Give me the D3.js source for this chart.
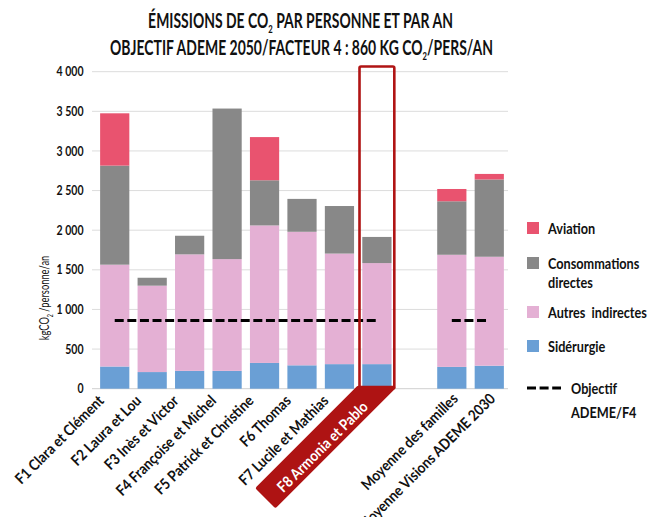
<!DOCTYPE html>
<html>
<head>
<meta charset="utf-8">
<script src="https://cdn.jsdelivr.net/npm/d3@7"></script>
<style>
  html, body { margin: 0; padding: 0; background: #fff; }
  svg text { font-family: Lato, "Open Sans", "DejaVu Sans", sans-serif; fill: #111; font-weight: bold; }
</style>
</head>
<body>
<svg id="chart" width="659" height="517"></svg>
<script>
// Categories (one empty slot separates families from averages)
const categories = [
  "F1 Clara et Clément", "F2 Laura et Lou", "F3 Inès et Victor", "F4 Françoise et Michel",
  "F5 Patrick et Christine", "F6 Thomas", "F7 Lucile et Mathias", "F8 Armonia et Pablo",
  "", "Moyenne des familles", "Moyenne Visions ADEME 2030"
];
// kg CO2 per person per year, by stack layer
const siderurgie     = [280, 210, 225, 225, 325, 295, 310, 310, null, 275, 290];
const autresIndir    = [1285, 1090, 1470, 1410, 1735, 1685, 1395, 1275, null, 1415, 1375];
const consoDirectes  = [1250, 100, 235, 1900, 570, 415, 600, 330, null, 675, 975];
const aviation       = [660, 0, 0, 0, 545, 0, 0, 0, null, 155, 70];
const objectif       = [860, 860, 860, 860, 860, 860, 860, 860, null, 860, 860];
const yTicks = [0, 500, 1000, 1500, 2000, 2500, 3000, 3500, 4000];
const highlighted = "F8 Armonia et Pablo";

const seriesNames = ["Sidérurgie", "Autres indirectes", "Consommations directes", "Aviation"];
const seriesValues = [siderurgie, autresIndir, consoDirectes, aviation];
const colors = ["#6a9fd5", "#e4b0d4", "#888888", "#e9536f"];

const svg = d3.select("#chart");
const x = d3.scaleBand().domain(categories).range([96, 508]).paddingInner(0.22).paddingOuter(0.11);
const y = d3.scaleLinear().domain([0, 4000]).range([388.7, 71.7]);
const fmt = d3.formatLocale({ decimal: ",", thousands: " ", grouping: [3], currency: ["", "€"] }).format(",d");
const bw = x.bandwidth(), y0 = y(0);

// Horizontal squeeze factor so that a sample string occupies a given width
function squeeze(text, size, width) {
  const t = svg.append("text").attr("font-size", size).text(text);
  const w = t.node().getComputedTextLength();
  t.remove();
  return width / w;
}

// Title (each line squeezed to its width)
function titleLine(parts, cx, by, width) {
  const g = svg.append("g");
  const t = g.append("text").attr("font-size", 20).attr("text-anchor", "middle");
  parts.forEach(p => {
    if (p.sub) t.append("tspan").attr("font-size", 11).attr("dy", 5).text(p.sub);
    else t.append("tspan").attr("dy", p.back ? -5 : 0).text(p.txt);
  });
  const w = t.node().getBBox().width;
  g.attr("transform", `translate(${cx},${by}) scale(${width / w},1)`);
}
titleLine([{ txt: "ÉMISSIONS DE CO" }, { sub: "2" }, { txt: " PAR PERSONNE ET PAR AN", back: true }], 300.5, 28, 305);
titleLine([{ txt: "OBJECTIF ADEME 2050/FACTEUR 4 : 860 KG CO" }, { sub: "2" }, { txt: "/PERS/AN", back: true }], 301.5, 55, 383);

// Gridlines
svg.append("g").selectAll("line").data(yTicks).join("line")
  .attr("x1", 92).attr("x2", 508)
  .attr("y1", d => y(d)).attr("y2", d => y(d))
  .attr("stroke", d => d === 0 ? "#cfcfcf" : "#dcdcdc").attr("stroke-width", 1);

// Y axis labels
const sTick = squeeze("4 000", 13.5, 27);
svg.append("g").selectAll("text").data(yTicks).join("text")
  .attr("transform", d => `translate(83.5,${y(d) + 4.6}) scale(${sTick},1)`)
  .attr("text-anchor", "end").attr("font-size", 13.5).text(d => fmt(d));

// Y title
const sYt = squeeze("kgCO2 /personne/an", 14, 88);
const yt = svg.append("text").attr("transform", `translate(49,298) rotate(-90) scale(${sYt},1)`)
  .attr("text-anchor", "middle").attr("font-size", 14).style("font-weight", "normal");
yt.append("tspan").text("kgCO");
yt.append("tspan").attr("font-size", 8).attr("dy", 4).text("2");
yt.append("tspan").attr("dy", -4).text(" /personne/an");

// Stacked bars
const rows = categories.map((c, i) => {
  const r = { cat: c };
  seriesNames.forEach((s, k) => r[s] = seriesValues[k][i] || 0);
  return r;
});
const stack = d3.stack().keys(seriesNames)(rows);
svg.append("g").selectAll("g").data(stack).join("g")
  .attr("fill", (d, i) => colors[i])
  .selectAll("rect").data(d => d.filter(p => p[1] > p[0])).join("rect")
  .attr("x", d => x(d.data.cat)).attr("width", bw)
  .attr("y", d => y(d[1])).attr("height", d => y(d[0]) - y(d[1]));

// Objective dashed line (gap at empty category)
const line = d3.line().defined(d => d.v != null)
  .x(d => x(d.c) + bw / 2).y(d => y(d.v));
svg.append("path").datum(categories.map((c, i) => ({ c, v: objectif[i] })))
  .attr("d", line).attr("fill", "none").attr("stroke", "#000")
  .attr("stroke-width", 3).attr("stroke-dasharray", "9,3.6");

// Highlight frame around F8
const hx = x(highlighted);
svg.append("rect").attr("x", hx - 2.8).attr("y", y(4000) - 5.2)
  .attr("width", bw + 5.6).attr("height", y0 - y(4000) + 5)
  .attr("rx", 1.5).attr("fill", "none").attr("stroke", "#b01414").attr("stroke-width", 2.6);

// Label badge for F8
const cx8 = hx + bw / 2;
const L = 118, k = 17.5;
const A = [cx8 - 18.5, y0 - 1], B = [cx8 + 16.5, y0 - 1];
const C = [B[0] - L, B[1] + L], D = [C[0] - k, C[1] - k];
svg.append("path").attr("d", `M${A}L${B}L${C}L${D}Z`)
  .attr("fill", "#ae1313").attr("stroke", "#ae1313").attr("stroke-width", 4).attr("stroke-linejoin", "round");

// X labels
const sX = squeeze("F1 Clara et Clément", 15, 118);
const gapIdx = categories.indexOf("");
svg.append("g").selectAll("text").data(categories.filter(c => c !== "")).join("text")
  .attr("transform", d => {
    const i = categories.indexOf(d);
    const cx = x(d) + bw / 2;
    if (d === highlighted) return `translate(${cx - 8},${y0 + 19}) rotate(-45) scale(${sX},1)`;
    const off = i > gapIdx ? 7 : -10;
    return `translate(${cx + off},${y0 + (i > gapIdx ? 11 : 13)}) rotate(-45) scale(${sX},1)`;
  })
  .attr("text-anchor", "end").attr("font-size", 15)
  .style("fill", d => d === highlighted ? "#fff" : "#111")
  .text(d => d);

// Legend
const sL = squeeze("Autres\u00a0\u00a0indirectes", 15, 99);
const legend = svg.append("g");
const legItems = [
  { lines: ["Aviation"], color: colors[3], yy: 222 },
  { lines: ["Consommations", "directes"], color: colors[2], yy: 257 },
  { lines: ["Autres\u00a0\u00a0indirectes"], color: colors[1], yy: 306 },
  { lines: ["Sidérurgie"], color: colors[0], yy: 340 }
];
legItems.forEach(it => {
  legend.append("rect").attr("x", 527).attr("y", it.yy).attr("width", 12).attr("height", 12).attr("fill", it.color);
  const tx = legend.append("text").attr("font-size", 15)
    .attr("transform", `translate(548,${it.yy + 11.5}) scale(${sL},1)`);
  it.lines.forEach((l, j) => tx.append("tspan").attr("x", 0).attr("dy", j ? 20 : 0).text(l));
});
legend.append("line").attr("x1", 527).attr("x2", 561).attr("y1", 388).attr("y2", 388)
  .attr("stroke", "#000").attr("stroke-width", 3).attr("stroke-dasharray", "9,3.6");
const ot = legend.append("text").attr("font-size", 15)
  .attr("transform", `translate(571,394) scale(${sL},1)`);
ot.append("tspan").attr("x", 0).text("Objectif");
ot.append("tspan").attr("x", 0).attr("dy", 24).text("ADEME/F4");
</script>
</body>
</html>
